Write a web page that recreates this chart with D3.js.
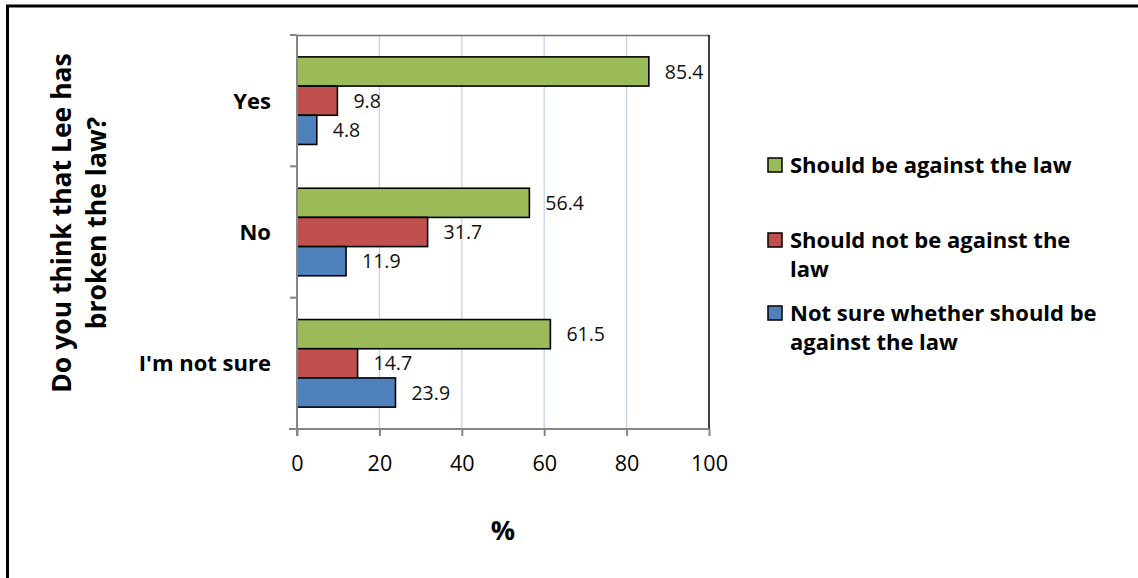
<!DOCTYPE html>
<html>
<head>
<meta charset="utf-8">
<script src="https://cdn.jsdelivr.net/npm/d3@7"></script>
<style>
  html, body { margin: 0; padding: 0; background: #fff; }
  svg { display: block; font-family: "Open Sans", Lato, sans-serif; }
</style>
</head>
<body>
<svg id="chart" width="1138" height="578"></svg>
<script>
const categories = ["Yes", "No", "I'm not sure"];
const seriesNames = ["Should be against the law", "Should not be against the law", "Not sure whether should be against the law"];
const shouldBeAgainst = [85.4, 56.4, 61.5];
const shouldNotBeAgainst = [9.8, 31.7, 14.7];
const notSure = [4.8, 11.9, 23.9];
const xTicks = [0, 20, 40, 60, 80, 100];
const legendLines = [["Should be against the law"], ["Should not be against the", "law"], ["Not sure whether should be", "against the law"]];
const yTitleLines = ["Do you think that Lee has", "broken the law?"];
const xTitle = "%";

const colors = ["#9bbb59", "#c0504d", "#4f81bd"];
const seriesValues = [shouldBeAgainst, shouldNotBeAgainst, notSure];

const svg = d3.select("#chart");

// outer frame (left and top)
svg.append("path")
  .attr("d", "M7.5,578 V6 H1138")
  .attr("fill", "none").attr("stroke", "#000").attr("stroke-width", 3);

const pLeft = 297, pRight = 709, pTop = 35, pBottom = 429;
const x = d3.scaleLinear().domain([0, 100]).range([pLeft, pRight]);
const y = d3.scaleBand().domain(categories).range([pTop, pBottom]).padding(0);
const barH = y.bandwidth() / 4.5;
const groupOffset = barH * 0.75;

// gridlines
svg.append("g").selectAll("line")
  .data(xTicks.filter(t => t > 0 && t < 100))
  .join("line")
  .attr("x1", d => x(d)).attr("x2", d => x(d))
  .attr("y1", pTop).attr("y2", pBottom)
  .attr("stroke", "#c5d3ea").attr("stroke-width", 1.3);

// plot area border top + right
svg.append("line").attr("x1", pLeft).attr("x2", pRight).attr("y1", pTop + 0.5).attr("y2", pTop + 0.5)
  .attr("stroke", "#6d6d6d").attr("stroke-width", 1.3);
svg.append("line").attr("x1", pRight).attr("x2", pRight).attr("y1", pTop).attr("y2", pBottom)
  .attr("stroke", "#000").attr("stroke-width", 1.5);

// bars
const data = [];
categories.forEach((c, i) => {
  seriesValues.forEach((vals, s) => data.push({ cat: c, s: s, v: vals[i] }));
});

svg.append("g").selectAll("rect")
  .data(data)
  .join("rect")
  .attr("x", x(0))
  .attr("y", d => y(d.cat) + groupOffset + d.s * barH)
  .attr("width", d => x(d.v) - x(0))
  .attr("height", barH)
  .attr("fill", d => colors[d.s])
  .attr("stroke", "#000").attr("stroke-width", 1.6);

svg.append("g").selectAll("text")
  .data(data)
  .join("text")
  .attr("x", d => x(d.v) + 16)
  .attr("y", d => y(d.cat) + groupOffset + d.s * barH + barH / 2)
  .attr("dy", "0.36em")
  .attr("font-size", 19.5)
  .attr("fill", "#111")
  .text(d => d.v.toFixed(1));

// y axis
const yAxisG = svg.append("g").attr("transform", `translate(${pLeft},0)`);
yAxisG.append("line").attr("x1", 0).attr("x2", 0).attr("y1", pTop).attr("y2", pBottom + 7)
  .attr("stroke", "#868686").attr("stroke-width", 2);
const boundaries = categories.map(c => y(c)).concat([pBottom]);
yAxisG.selectAll("line.tick").data(boundaries).join("line").attr("class", "tick")
  .attr("x1", -7).attr("x2", 0).attr("y1", d => d).attr("y2", d => d)
  .attr("stroke", "#868686").attr("stroke-width", 2);
yAxisG.selectAll("text").data(categories).join("text")
  .attr("x", -26).attr("y", d => y(d) + y.bandwidth() / 2)
  .attr("dy", "0.36em").attr("text-anchor", "end")
  .attr("font-size", 22).attr("font-weight", "bold").attr("fill", "#000")
  .text(d => d);

// x axis
const xAxis = d3.axisBottom(x).tickValues(xTicks).tickSize(7).tickPadding(20).tickFormat(d3.format("d"));
const xAxisG = svg.append("g").attr("transform", `translate(0,${pBottom})`).call(xAxis);
xAxisG.select(".domain").remove();
xAxisG.insert("line", ":first-child").attr("x1", pLeft - 8).attr("x2", pRight).attr("y1", 0).attr("y2", 0)
  .attr("stroke", "#868686").attr("stroke-width", 2);
xAxisG.selectAll(".tick line").attr("stroke", "#868686").attr("stroke-width", 2);
xAxisG.selectAll(".tick text").attr("font-size", 21.5).attr("fill", "#000")
  .attr("font-family", "'Open Sans', sans-serif");

// x title
svg.append("text").attr("x", (pLeft + pRight) / 2).attr("y", 530).attr("dy", "0.36em")
  .attr("text-anchor", "middle").attr("font-size", 27).attr("font-weight", "bold").text(xTitle);

// y title
const yt = svg.append("text").attr("transform", "translate(79,223) rotate(-90)")
  .attr("text-anchor", "middle").attr("font-size", 26.5).attr("font-weight", "bold");
yTitleLines.forEach((l, i) => {
  yt.append("tspan").attr("x", 0).attr("y", (i - 0.5) * 35).attr("dy", "0.36em").text(l);
});

// legend
const legendTop = [165, 240, 313];
const lg = svg.append("g");
legendLines.forEach((lines, i) => {
  lg.append("rect").attr("x", 768).attr("y", legendTop[i] - 7).attr("width", 14).attr("height", 14)
    .attr("fill", colors[i]).attr("stroke", "#000").attr("stroke-width", 1.5);
  lines.forEach((l, j) => {
    lg.append("text").attr("x", 790).attr("y", legendTop[i] + j * 29).attr("dy", "0.36em")
      .attr("font-size", 22).attr("font-weight", "bold").text(l);
  });
});
</script>
</body>
</html>
